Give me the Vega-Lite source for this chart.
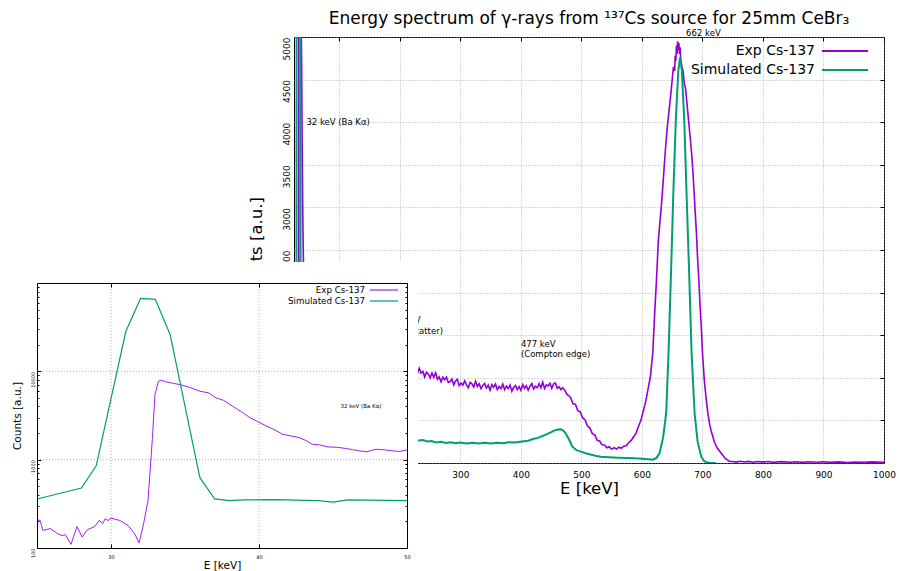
{
  "$schema": "https://vega.github.io/schema/vega-lite/v6.json",
  "width": 590,
  "height": 426,
  "autosize": {"type": "none"},
  "padding": {"left": 294, "top": 37, "right": 15, "bottom": 108},
  "background": "white",
  "title": {"text": "Energy spectrum of γ-rays from ¹³⁷Cs source for 25mm CeBr₃", "frame": "group", "fontSize": 17, "fontWeight": "normal", "font": "DejaVu Sans", "offset": 1, "color": "#000000"},
  "config": {
    "font": "DejaVu Sans",
    "view": {"stroke": "#000000", "strokeWidth": 1},
    "axis": {"labelColor": "#000000", "titleColor": "#000000", "titleFontWeight": "normal", "domainColor": "#000000", "tickColor": "#000000", "gridColor": "#a0a0a0", "gridDash": [1, 2], "gridWidth": 0.8, "labelFont": "DejaVu Sans", "titleFont": "DejaVu Sans"},
    "legend": {"labelColor": "#000000", "labelFont": "DejaVu Sans"}
  },
  "datasets": {
    "exp": [
      {"E": 25, "c": 205}, {"E": 25.2, "c": 207}, {"E": 25.4, "c": 158}, {"E": 25.9, "c": 166}, {"E": 26.4, "c": 145}, {"E": 26.7, "c": 138}, {"E": 26.9, "c": 142}, {"E": 27.3, "c": 110}, {"E": 27.7, "c": 175}, {"E": 28.05, "c": 133}, {"E": 28.4, "c": 161}, {"E": 28.9, "c": 175}, {"E": 29.2, "c": 205}, {"E": 29.45, "c": 190}, {"E": 29.6, "c": 214}, {"E": 29.8, "c": 205}, {"E": 30.0, "c": 218}, {"E": 30.6, "c": 205}, {"E": 31.15, "c": 180}, {"E": 31.6, "c": 145}, {"E": 31.9, "c": 114}, {"E": 32.2, "c": 188}, {"E": 32.5, "c": 344}, {"E": 32.8, "c": 1780}, {"E": 32.97, "c": 5460}, {"E": 33.2, "c": 7710}, {"E": 33.4, "c": 7950}, {"E": 33.74, "c": 7580}, {"E": 34.64, "c": 7080}, {"E": 35.3, "c": 6600}, {"E": 36.0, "c": 5960}, {"E": 36.6, "c": 5700}, {"E": 37.1, "c": 5010}, {"E": 37.6, "c": 4700}, {"E": 38.2, "c": 4040}, {"E": 38.8, "c": 3500}, {"E": 39.4, "c": 2980}, {"E": 39.9, "c": 2700}, {"E": 40.5, "c": 2400}, {"E": 41.0, "c": 2200}, {"E": 41.6, "c": 1935}, {"E": 42.2, "c": 1850}, {"E": 42.7, "c": 1780}, {"E": 43.2, "c": 1640}, {"E": 43.6, "c": 1493}, {"E": 44.1, "c": 1470}, {"E": 44.66, "c": 1394}, {"E": 45.3, "c": 1380}, {"E": 45.9, "c": 1336}, {"E": 46.3, "c": 1300}, {"E": 46.8, "c": 1257}, {"E": 47.3, "c": 1230}, {"E": 47.9, "c": 1312}, {"E": 48.5, "c": 1290}, {"E": 49.05, "c": 1257}, {"E": 49.5, "c": 1240}, {"E": 50, "c": 1290},
      {"E": 60, "c": 1250}, {"E": 80, "c": 1300}, {"E": 100, "c": 1350}, {"E": 130, "c": 1400}, {"E": 160, "c": 1450}, {"E": 184, "c": 1480}, {"E": 200, "c": 1350}, {"E": 215, "c": 1200},
      {"E": 226, "c": 1110}, {"E": 229, "c": 1049}, {"E": 232, "c": 1112}, {"E": 235, "c": 1056}, {"E": 238, "c": 1075}, {"E": 241, "c": 1009}, {"E": 244, "c": 1067}, {"E": 247, "c": 1046}, {"E": 250, "c": 1000}, {"E": 253, "c": 1058}, {"E": 256, "c": 1006}, {"E": 259, "c": 1059}, {"E": 262, "c": 982}, {"E": 265, "c": 1010}, {"E": 268, "c": 953}, {"E": 271, "c": 1006}, {"E": 274, "c": 979}, {"E": 277, "c": 1007}, {"E": 280, "c": 945}, {"E": 283, "c": 955}, {"E": 286, "c": 986}, {"E": 289, "c": 916}, {"E": 292, "c": 962}, {"E": 295, "c": 982}, {"E": 298, "c": 908}, {"E": 301, "c": 939}, {"E": 304, "c": 912}, {"E": 307, "c": 964}, {"E": 310, "c": 917}, {"E": 313, "c": 885}, {"E": 316, "c": 947}, {"E": 319, "c": 930}, {"E": 322, "c": 892}, {"E": 325, "c": 960}, {"E": 328, "c": 898}, {"E": 331, "c": 930}, {"E": 334, "c": 873}, {"E": 337, "c": 910}, {"E": 340, "c": 933}, {"E": 343, "c": 881}, {"E": 346, "c": 914}, {"E": 349, "c": 853}, {"E": 352, "c": 921}, {"E": 355, "c": 889}, {"E": 358, "c": 927}, {"E": 361, "c": 860}, {"E": 364, "c": 899}, {"E": 367, "c": 872}, {"E": 370, "c": 925}, {"E": 373, "c": 860}, {"E": 376, "c": 904}, {"E": 379, "c": 874}, {"E": 382, "c": 914}, {"E": 385, "c": 843}, {"E": 388, "c": 888}, {"E": 391, "c": 908}, {"E": 394, "c": 863}, {"E": 397, "c": 897}, {"E": 400, "c": 852}, {"E": 403, "c": 919}, {"E": 406, "c": 876}, {"E": 409, "c": 907}, {"E": 412, "c": 854}, {"E": 415, "c": 901}, {"E": 418, "c": 933}, {"E": 421, "c": 870}, {"E": 424, "c": 901}, {"E": 427, "c": 883}, {"E": 430, "c": 930}, {"E": 433, "c": 882}, {"E": 436, "c": 949}, {"E": 439, "c": 875}, {"E": 442, "c": 917}, {"E": 445, "c": 904}, {"E": 448, "c": 936}, {"E": 451, "c": 878}, {"E": 454, "c": 929}, {"E": 457, "c": 938}, {"E": 460, "c": 877}, {"E": 463, "c": 896}, {"E": 466, "c": 860}, {"E": 469, "c": 884},
      {"E": 473, "c": 850}, {"E": 476, "c": 805}, {"E": 479, "c": 790}, {"E": 482, "c": 770}, {"E": 486, "c": 695}, {"E": 490, "c": 690}, {"E": 494, "c": 615}, {"E": 498, "c": 600}, {"E": 502, "c": 530}, {"E": 506, "c": 505}, {"E": 510, "c": 435}, {"E": 514, "c": 410}, {"E": 518, "c": 345}, {"E": 522, "c": 330}, {"E": 526, "c": 265}, {"E": 530, "c": 258}, {"E": 534, "c": 215}, {"E": 538, "c": 212}, {"E": 542, "c": 178}, {"E": 546, "c": 190}, {"E": 550, "c": 162}, {"E": 554, "c": 180}, {"E": 558, "c": 163}, {"E": 562, "c": 185}, {"E": 566, "c": 172}, {"E": 570, "c": 198}, {"E": 574, "c": 203}, {"E": 578, "c": 238}, {"E": 582, "c": 262}, {"E": 586, "c": 305}, {"E": 590, "c": 345}, {"E": 594, "c": 425}, {"E": 598, "c": 495}, {"E": 602, "c": 605}, {"E": 606, "c": 715}, {"E": 610, "c": 865}, {"E": 614, "c": 1015}, {"E": 618, "c": 1300},
      {"E": 621, "c": 1750}, {"E": 624, "c": 2150}, {"E": 627, "c": 2600}, {"E": 630, "c": 2850}, {"E": 633, "c": 3100}, {"E": 636, "c": 3400}, {"E": 639, "c": 3700}, {"E": 642, "c": 3950}, {"E": 645, "c": 4150}, {"E": 648, "c": 4350}, {"E": 650, "c": 4500}, {"E": 652, "c": 4650}, {"E": 654, "c": 4600}, {"E": 655, "c": 4780}, {"E": 656, "c": 4720}, {"E": 657, "c": 4900}, {"E": 658, "c": 4800}, {"E": 659, "c": 4950}, {"E": 660, "c": 4850}, {"E": 661, "c": 4930}, {"E": 662, "c": 4800}, {"E": 663, "c": 4880}, {"E": 664, "c": 4750}, {"E": 666, "c": 4650}, {"E": 668, "c": 4600}, {"E": 670, "c": 4450}, {"E": 672, "c": 4400}, {"E": 674, "c": 4250}, {"E": 676, "c": 4100}, {"E": 678, "c": 3950}, {"E": 680, "c": 3800}, {"E": 682, "c": 3640}, {"E": 684, "c": 3450}, {"E": 686, "c": 3200}, {"E": 688, "c": 2950}, {"E": 690, "c": 2700}, {"E": 692, "c": 2400}, {"E": 694, "c": 2150}, {"E": 696, "c": 1850}, {"E": 698, "c": 1600}, {"E": 700, "c": 1300}, {"E": 703, "c": 976}, {"E": 706, "c": 760}, {"E": 709, "c": 580}, {"E": 712, "c": 450}, {"E": 715, "c": 360}, {"E": 720, "c": 240}, {"E": 725, "c": 170}, {"E": 731, "c": 114}, {"E": 738, "c": 50}, {"E": 745, "c": 18},
      {"E": 750, "c": 18}, {"E": 756, "c": 10}, {"E": 762, "c": 21}, {"E": 770, "c": 12}, {"E": 776, "c": 19}, {"E": 784, "c": 9}, {"E": 790, "c": 17}, {"E": 800, "c": 10}, {"E": 808, "c": 18}, {"E": 818, "c": 8}, {"E": 830, "c": 16}, {"E": 845, "c": 9}, {"E": 852, "c": 15}, {"E": 866, "c": 7}, {"E": 875, "c": 14}, {"E": 890, "c": 9}, {"E": 898, "c": 15}, {"E": 912, "c": 7}, {"E": 925, "c": 13}, {"E": 940, "c": 6}, {"E": 952, "c": 12}, {"E": 968, "c": 7}, {"E": 980, "c": 13}, {"E": 1000, "c": 9}
    ],
    "sim": [
      {"E": 25, "c": 359}, {"E": 28, "c": 478}, {"E": 29, "c": 853}, {"E": 31, "c": 28200}, {"E": 32, "c": 67000}, {"E": 33, "c": 65200}, {"E": 34, "c": 25900}, {"E": 36, "c": 630}, {"E": 37, "c": 359}, {"E": 38, "c": 344}, {"E": 39, "c": 350}, {"E": 41, "c": 352}, {"E": 44, "c": 344}, {"E": 45, "c": 330}, {"E": 46, "c": 350}, {"E": 50, "c": 344},
      {"E": 60, "c": 345}, {"E": 80, "c": 340}, {"E": 100, "c": 335}, {"E": 150, "c": 320}, {"E": 184, "c": 300}, {"E": 200, "c": 285}, {"E": 220, "c": 268},
      {"E": 231, "c": 263}, {"E": 238, "c": 270}, {"E": 245, "c": 252}, {"E": 252, "c": 258}, {"E": 260, "c": 242}, {"E": 268, "c": 248}, {"E": 276, "c": 236}, {"E": 284, "c": 244}, {"E": 292, "c": 232}, {"E": 300, "c": 240}, {"E": 310, "c": 229}, {"E": 320, "c": 238}, {"E": 330, "c": 228}, {"E": 340, "c": 237}, {"E": 350, "c": 229}, {"E": 360, "c": 238}, {"E": 370, "c": 232}, {"E": 380, "c": 244}, {"E": 390, "c": 240}, {"E": 402, "c": 253}, {"E": 412, "c": 262}, {"E": 420, "c": 282}, {"E": 428, "c": 295}, {"E": 433, "c": 310}, {"E": 440, "c": 330}, {"E": 445, "c": 345}, {"E": 450, "c": 362}, {"E": 455, "c": 380}, {"E": 461, "c": 392}, {"E": 466, "c": 396}, {"E": 470, "c": 380}, {"E": 474, "c": 349}, {"E": 480, "c": 270}, {"E": 485, "c": 192}, {"E": 492, "c": 150}, {"E": 499, "c": 133}, {"E": 507, "c": 115}, {"E": 515, "c": 100}, {"E": 523, "c": 85}, {"E": 532, "c": 74}, {"E": 545, "c": 68}, {"E": 560, "c": 62}, {"E": 575, "c": 58}, {"E": 587, "c": 55}, {"E": 600, "c": 50}, {"E": 610, "c": 45}, {"E": 618, "c": 38},
      {"E": 624, "c": 60}, {"E": 629, "c": 114}, {"E": 635, "c": 300}, {"E": 640, "c": 584}, {"E": 644, "c": 1300}, {"E": 648, "c": 2230}, {"E": 652, "c": 3200}, {"E": 656, "c": 4027}, {"E": 660, "c": 4600}, {"E": 663, "c": 4760}, {"E": 666, "c": 4600}, {"E": 670, "c": 4000}, {"E": 674, "c": 3100}, {"E": 678, "c": 2230}, {"E": 682, "c": 1300}, {"E": 687, "c": 584}, {"E": 692, "c": 250}, {"E": 698, "c": 74}, {"E": 703, "c": 20}, {"E": 708, "c": 6}, {"E": 714, "c": 2}, {"E": 722, "c": 0}
    ],
    "notes": [
      {"E": 673, "c": 5045, "label": "662 keV"},
      {"E": 45.5, "c": 4000, "label": "32 keV (Ba Kα)"},
      {"E": 400, "c": 1397, "label": "477 keV"},
      {"E": 400, "c": 1276, "label": "(Compton edge)"},
      {"E": 177, "c": 1678, "label": "184 keV"},
      {"E": 177, "c": 1553, "label": "(Backscatter)"}
    ],
    "insetbg": [{"x1": 20, "x2": 50.74, "y1": 30, "y2": 173000}],
    "igridx": [{"g": 30}, {"g": 40}],
    "igridy": [{"g": 1000}, {"g": 10000}]
  },
  "layer": [
    {
      "layer": [
        {
          "data": {"name": "exp"},
          "mark": {"type": "line", "clip": true, "strokeWidth": 1.6},
          "encoding": {
            "x": {"field": "E", "type": "quantitative", "scale": {"domain": [25, 1000], "nice": false, "zero": false},
                  "axis": {"orient": "bottom", "values": [100, 200, 300, 400, 500, 600, 700, 800, 900, 1000], "format": "d", "grid": true, "ticks": false, "domain": false, "labelFlush": false, "labelFontSize": 9, "labelPadding": 7, "title": "E [keV]", "titleFontSize": 16.5, "titlePadding": 1}},
            "y": {"field": "c", "type": "quantitative", "scale": {"domain": [0, 5000], "nice": false, "zero": false},
                  "axis": {"orient": "left", "values": [0, 500, 1000, 1500, 2000, 2500, 3000, 3500, 4000, 4500, 5000], "format": "d", "grid": true, "ticks": false, "domain": false, "labelFlush": false, "labelAngle": -90, "labelAlign": "right", "labelBaseline": "bottom", "labelFontSize": 9, "labelPadding": 3, "title": "Counts [a.u.]", "titleFontSize": 16.5, "titlePadding": 18}},
            "color": {"datum": "Exp Cs-137", "type": "nominal", "scale": {"domain": ["Exp Cs-137", "Simulated Cs-137"], "range": ["#9400d3", "#009e73"]},
                      "legend": {"title": null, "orient": "none", "legendX": 542, "legendY": 5, "symbolType": "M-2.875,0H2.875", "symbolSize": 256, "symbolStrokeWidth": 2, "labelFontSize": 14, "labelAlign": "right", "labelOffset": -39, "rowPadding": 3, "padding": 0}}
          }
        },
        {
          "data": {"name": "sim"},
          "mark": {"type": "line", "clip": true, "strokeWidth": 2},
          "encoding": {
            "x": {"field": "E", "type": "quantitative", "scale": {"domain": [25, 1000], "nice": false, "zero": false},
                  "axis": {"orient": "top", "values": [100, 200, 300, 400, 500, 600, 700, 800, 900, 1000], "labels": false, "title": null, "grid": false, "domain": false, "ticks": true, "tickSize": -4, "tickColor": "#000000"}},
            "y": {"field": "c", "type": "quantitative", "scale": {"domain": [0, 5000], "nice": false, "zero": false},
                  "axis": {"orient": "right", "values": [500, 1000, 1500, 2000, 2500, 3000, 3500, 4000, 4500], "labels": false, "title": null, "grid": false, "domain": false, "ticks": true, "tickSize": -4, "tickColor": "#000000"}},
            "color": {"datum": "Simulated Cs-137", "type": "nominal"}
          }
        },
        {
          "data": {"name": "notes"},
          "mark": {"type": "text", "align": "left", "baseline": "middle", "fontSize": 8.5, "color": "#000000"},
          "encoding": {
            "x": {"field": "E", "type": "quantitative", "scale": {"domain": [25, 1000], "nice": false, "zero": false}, "axis": null},
            "y": {"field": "c", "type": "quantitative", "scale": {"domain": [0, 5000], "nice": false, "zero": false}, "axis": null},
            "text": {"field": "label"}
          }
        }
      ]
    },
    {
      "layer": [
        {
          "data": {"name": "insetbg"},
          "mark": {"type": "rect", "fill": "#ffffff", "opacity": 1},
          "encoding": {
            "x": {"field": "x1", "type": "quantitative", "scale": {"domain": [25, 50], "range": [-257, 113], "nice": false, "zero": false},
                  "axis": {"orient": "top", "offset": -246, "values": [30, 40, 50], "labels": false, "title": null, "domain": true, "ticks": true, "tickSize": -4, "grid": false, "zindex": 1}},
            "x2": {"field": "x2"},
            "y": {"field": "y1", "type": "quantitative", "scale": {"type": "log", "domain": [100, 100000], "range": [511, 246], "nice": false},
                  "axis": {"orient": "right", "offset": -477, "values": [1000, 10000], "labels": false, "title": null, "domain": true, "ticks": true, "tickSize": -4, "grid": false, "zindex": 1}},
            "y2": {"field": "y2"}
          }
        },
        {
          "data": {"name": "igridx"},
          "mark": {"type": "rule", "color": "#a0a0a0", "strokeDash": [1, 2], "strokeWidth": 0.8},
          "encoding": {
            "x": {"field": "g", "type": "quantitative", "scale": {"domain": [25, 50], "range": [-257, 113], "nice": false, "zero": false}, "axis": null},
            "y": {"datum": 100, "type": "quantitative", "scale": {"type": "log", "domain": [100, 100000], "range": [511, 246], "nice": false},
                  "axis": {"orient": "right", "offset": -477, "values": [200, 300, 400, 500, 600, 700, 800, 900, 2000, 3000, 4000, 5000, 6000, 7000, 8000, 9000, 20000, 30000, 40000, 50000, 60000, 70000, 80000, 90000], "labels": false, "title": null, "domain": false, "ticks": true, "tickSize": -2, "grid": false, "zindex": 1}},
            "y2": {"datum": 100000}
          }
        },
        {
          "data": {"name": "igridy"},
          "mark": {"type": "rule", "color": "#a0a0a0", "strokeDash": [1, 2], "strokeWidth": 0.8},
          "encoding": {
            "y": {"field": "g", "type": "quantitative", "scale": {"type": "log", "domain": [100, 100000], "range": [511, 246], "nice": false},
                  "axis": {"orient": "left", "offset": 257, "values": [200, 300, 400, 500, 600, 700, 800, 900, 2000, 3000, 4000, 5000, 6000, 7000, 8000, 9000, 20000, 30000, 40000, 50000, 60000, 70000, 80000, 90000], "labels": false, "title": null, "domain": false, "ticks": true, "tickSize": -2, "grid": false, "zindex": 1}},
            "x": {"datum": 25, "type": "quantitative", "scale": {"domain": [25, 50], "range": [-257, 113], "nice": false, "zero": false}, "axis": null},
            "x2": {"datum": 50}
          }
        },
        {
          "data": {"name": "exp"},
          "transform": [{"filter": "datum.E <= 50"}],
          "mark": {"type": "line", "strokeWidth": 1},
          "encoding": {
            "x": {"field": "E", "type": "quantitative", "scale": {"domain": [25, 50], "range": [-257, 113], "nice": false, "zero": false},
                  "axis": {"orient": "bottom", "offset": 85, "values": [30, 40, 50], "labelFlush": false, "labelFontSize": 5, "labelPadding": 10, "title": "E [keV]", "titleFontSize": 10.5, "titlePadding": 1, "domain": true, "ticks": true, "tickSize": -4, "grid": false, "zindex": 1}},
            "y": {"field": "c", "type": "quantitative", "scale": {"type": "log", "domain": [100, 100000], "range": [511, 246], "nice": false},
                  "axis": {"orient": "left", "offset": 257, "values": [100, 1000, 10000], "format": "d", "labelFlush": false, "labelAngle": -90, "labelAlign": "right", "labelBaseline": "bottom", "labelFontSize": 5, "labelPadding": 5.5, "title": "Counts [a.u.]", "titleFontSize": 10.5, "titlePadding": 8, "domain": true, "ticks": true, "tickSize": -4, "grid": false, "zindex": 1}},
            "color": {"datum": "Exp Cs-137", "type": "nominal", "scale": {"domain": ["Exp Cs-137", "Simulated Cs-137"], "range": ["#a020f0", "#009e73"]},
                      "legend": {"title": null, "orient": "none", "legendX": 85, "legendY": 248, "symbolType": "M-3.5,0H3.5", "symbolSize": 64, "symbolStrokeWidth": 1.2, "labelFontSize": 8.7, "labelAlign": "right", "labelOffset": -24, "rowPadding": 1, "padding": 0}}
          }
        },
        {
          "data": {"name": "sim"},
          "transform": [{"filter": "datum.E <= 50"}],
          "mark": {"type": "line", "strokeWidth": 1.2},
          "encoding": {
            "x": {"field": "E", "type": "quantitative", "scale": {"domain": [25, 50], "range": [-257, 113], "nice": false, "zero": false}, "axis": null},
            "y": {"field": "c", "type": "quantitative", "scale": {"type": "log", "domain": [100, 100000], "range": [511, 246], "nice": false}, "axis": null},
            "color": {"datum": "Simulated Cs-137", "type": "nominal"}
          }
        },
        {
          "mark": {"type": "text", "align": "center", "baseline": "middle", "fontSize": 10.7, "color": "#000000"},
          "encoding": {
            "x": {"datum": 37.5, "type": "quantitative", "scale": {"domain": [25, 50], "range": [-257, 113], "nice": false, "zero": false}, "axis": null},
            "y": {"datum": 140000, "type": "quantitative", "scale": {"type": "log", "domain": [100, 100000], "range": [511, 246], "nice": false}, "axis": null},
            "text": {"value": "Energy spectrum of γ-rays from ¹³⁷Cs source for 25mm CeBr₃"}
          }
        },
        {
          "data": {"name": "notes"},
          "transform": [{"filter": "datum.E <= 50"}],
          "mark": {"type": "text", "align": "left", "baseline": "middle", "fontSize": 5.5, "color": "#000000"},
          "encoding": {
            "x": {"field": "E", "type": "quantitative", "scale": {"domain": [25, 50], "range": [-257, 113], "nice": false, "zero": false}, "axis": null},
            "y": {"field": "c", "type": "quantitative", "scale": {"type": "log", "domain": [100, 100000], "range": [511, 246], "nice": false}, "axis": null},
            "text": {"field": "label"}
          }
        }
      ]
    }
  ],
  "resolve": {"scale": {"x": "independent", "y": "independent", "color": "independent"}}
}
